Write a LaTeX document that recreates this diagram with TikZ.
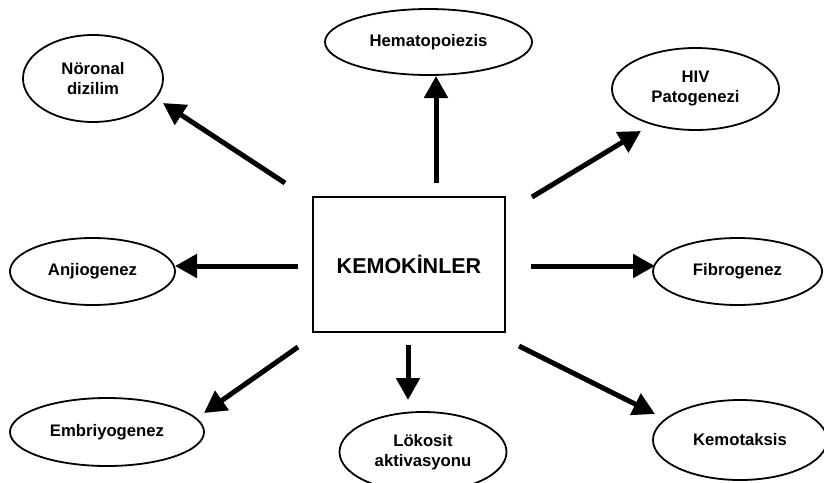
\documentclass[tikz,border=0pt]{standalone}
\usepackage{fontspec}
\setmainfont{Liberation Sans}
\usetikzlibrary{shapes.geometric,arrows.meta}
\begin{document}
\begin{tikzpicture}[x=1pt,y=-1pt,
  oval/.style={draw,line width=1.8pt,ellipse,inner sep=0pt,align=center,
    font=\fontsize{16.7}{20}\selectfont\bfseries},
  mainbox/.style={draw,line width=1.8pt,rectangle,inner sep=0pt,
    minimum width=192pt,minimum height=135pt,
    font=\fontsize{21.5}{26}\selectfont\bfseries},
  bigarrow/.style={line width=5pt,-{Triangle[length=22pt,width=23pt]}}]
\useasboundingbox (0,0) rectangle (824,482);
\node[mainbox] (box) at (409,264.5) {KEMOKİNLER};
\node[oval,minimum width=140pt,minimum height=87pt] (noro) at (93,78.5) {Nöronal\\dizilim};
\node[oval,minimum width=207pt,minimum height=66pt] (hema) at (428.5,42) {Hematopoiezis};
\node[oval,minimum width=167pt,minimum height=82pt] (hiv) at (695.5,89) {HIV\\Patogenezi};
\node[oval,minimum width=165pt,minimum height=67pt] (anji) at (92.5,271.5) {Anjiogenez};
\node[oval,minimum width=169pt,minimum height=67pt] (fibro) at (737.5,271.5) {Fibrogenez};
\node[oval,minimum width=194pt,minimum height=68pt] (embri) at (107,432) {Embriyogenez};
\node[oval,minimum width=167pt,minimum height=80pt] (loko) at (423,452) {Lökosit\\aktivasyonu};
\node[oval,minimum width=174pt,minimum height=80pt] (kemo) at (740,440) {Kemotaksis};
% arrow end points
\coordinate (s1) at (285,183); \coordinate (t1) at (163,103);
\coordinate (s2) at (436,183); \coordinate (t2) at (436,76);
\coordinate (s3) at (532,197); \coordinate (t3) at (641,131);
\coordinate (s4) at (298,266); \coordinate (t4) at (175,266);
\coordinate (s5) at (531,266); \coordinate (t5) at (655,266);
\coordinate (s6) at (298,347); \coordinate (t6) at (204,413);
\coordinate (s7) at (408,345); \coordinate (t7) at (408,400);
\coordinate (s8) at (519,346); \coordinate (t8) at (655,414);
\draw[bigarrow] (s1) -- (t1);
\draw[bigarrow] (s2) -- (t2);
\draw[bigarrow] (s3) -- (t3);
\draw[bigarrow] (s4) -- (t4);
\draw[bigarrow] (s5) -- (t5);
\draw[bigarrow] (s6) -- (t6);
\draw[bigarrow] (s7) -- (t7);
\draw[bigarrow] (s8) -- (t8);
\end{tikzpicture}
\end{document}
